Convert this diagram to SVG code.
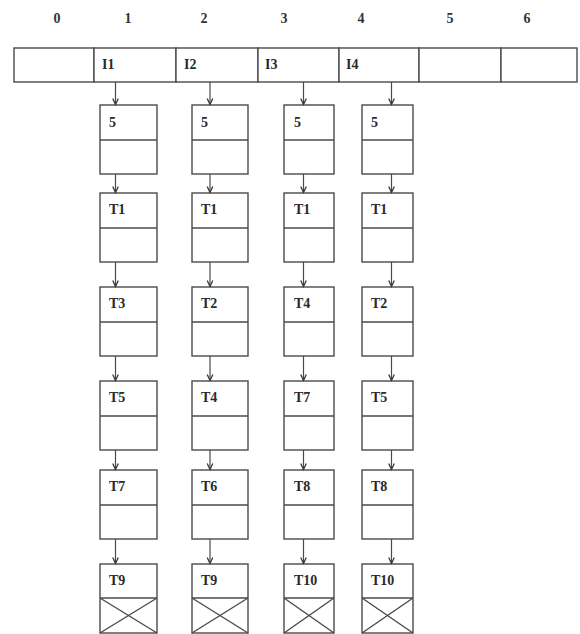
<svg xmlns="http://www.w3.org/2000/svg" width="580" height="634" viewBox="0 0 580 634">
  <style>
    .bg { fill: #ffffff; }
    .cell { fill: #ffffff; stroke: #4a4a4a; stroke-width: 1.4; }
    .line { fill: none; stroke: #4a4a4a; stroke-width: 1.4; }
    .idx { font-family: "Liberation Serif", "Times New Roman", serif; font-weight: bold; font-size: 14px; fill: #333333; text-anchor: middle; }
    .lbl { font-family: "Liberation Serif", "Times New Roman", serif; font-weight: bold; font-size: 14px; fill: #2a2a2a; }
    .txt { font-family: "Liberation Serif", "Times New Roman", serif; font-weight: bold; font-size: 14px; fill: #2a2a2a; }
    .conn { fill: none; stroke: #4a4a4a; stroke-width: 1.2; marker-end: url(#arr); }
  </style>
  <defs>
    <marker id="arr" viewBox="-8 -4 9 8" markerWidth="9" markerHeight="8" refX="0" refY="0" orient="auto" markerUnits="userSpaceOnUse">
      <path d="M-6,-2.8 L0,0 L-6,2.8" fill="none" stroke="#3a3a3a" stroke-width="1.3"/>
    </marker>
  </defs>
  <rect class="bg" x="0" y="0" width="580" height="634"/>

  <g id="indices">
    <text class="idx" x="57" y="23">0</text>
    <text class="idx" x="128" y="23">1</text>
    <text class="idx" x="204" y="23">2</text>
    <text class="idx" x="284" y="23">3</text>
    <text class="idx" x="361" y="23">4</text>
    <text class="idx" x="450" y="23">5</text>
    <text class="idx" x="527" y="23">6</text>
  </g>

  <g id="array">
    <rect class="cell" x="14" y="48" width="80" height="34"/>
    <rect class="cell" x="94" y="48" width="82" height="34"/>
    <rect class="cell" x="176" y="48" width="82" height="34"/>
    <rect class="cell" x="258" y="48" width="81" height="34"/>
    <rect class="cell" x="339" y="48" width="80" height="34"/>
    <rect class="cell" x="419" y="48" width="82" height="34"/>
    <rect class="cell" x="501" y="48" width="76" height="34"/>
    <text class="lbl" x="102" y="69">I1</text>
    <text class="lbl" x="184" y="69">I2</text>
    <text class="lbl" x="265" y="69">I3</text>
    <text class="lbl" x="346" y="69">I4</text>
  </g>

  <g id="col1">
    <g id="c1n1"><rect class="cell" x="100" y="105" width="57" height="69"/><line class="line" x1="100" y1="140" x2="157" y2="140"/><text class="txt" x="109" y="127">5</text></g>
    <g id="c1n2"><rect class="cell" x="100" y="193" width="57" height="69"/><line class="line" x1="100" y1="228" x2="157" y2="228"/><text class="txt" x="109" y="214">T1</text></g>
    <g id="c1n3"><rect class="cell" x="100" y="287" width="57" height="69"/><line class="line" x1="100" y1="322" x2="157" y2="322"/><text class="txt" x="109" y="308">T3</text></g>
    <g id="c1n4"><rect class="cell" x="100" y="381" width="57" height="69"/><line class="line" x1="100" y1="416" x2="157" y2="416"/><text class="txt" x="109" y="402">T5</text></g>
    <g id="c1n5"><rect class="cell" x="100" y="470" width="57" height="69"/><line class="line" x1="100" y1="505" x2="157" y2="505"/><text class="txt" x="109" y="491">T7</text></g>
    <g id="c1n6"><rect class="cell" x="100" y="564" width="57" height="69"/><line class="line" x1="100" y1="598" x2="157" y2="598"/><line class="line" x1="100" y1="598" x2="157" y2="633"/><line class="line" x1="157" y1="598" x2="100" y2="633"/><text class="txt" x="109" y="585">T9</text></g>
  </g>

  <g id="col2">
    <g id="c2n1"><rect class="cell" x="192" y="105" width="56" height="69"/><line class="line" x1="192" y1="140" x2="248" y2="140"/><text class="txt" x="201" y="127">5</text></g>
    <g id="c2n2"><rect class="cell" x="192" y="193" width="56" height="69"/><line class="line" x1="192" y1="228" x2="248" y2="228"/><text class="txt" x="201" y="214">T1</text></g>
    <g id="c2n3"><rect class="cell" x="192" y="287" width="56" height="69"/><line class="line" x1="192" y1="322" x2="248" y2="322"/><text class="txt" x="201" y="308">T2</text></g>
    <g id="c2n4"><rect class="cell" x="192" y="381" width="56" height="69"/><line class="line" x1="192" y1="416" x2="248" y2="416"/><text class="txt" x="201" y="402">T4</text></g>
    <g id="c2n5"><rect class="cell" x="192" y="470" width="56" height="69"/><line class="line" x1="192" y1="505" x2="248" y2="505"/><text class="txt" x="201" y="491">T6</text></g>
    <g id="c2n6"><rect class="cell" x="192" y="564" width="56" height="69"/><line class="line" x1="192" y1="598" x2="248" y2="598"/><line class="line" x1="192" y1="598" x2="248" y2="633"/><line class="line" x1="248" y1="598" x2="192" y2="633"/><text class="txt" x="201" y="585">T9</text></g>
  </g>

  <g id="col3">
    <g id="c3n1"><rect class="cell" x="284" y="105" width="50" height="69"/><line class="line" x1="284" y1="140" x2="334" y2="140"/><text class="txt" x="294" y="127">5</text></g>
    <g id="c3n2"><rect class="cell" x="284" y="193" width="50" height="69"/><line class="line" x1="284" y1="228" x2="334" y2="228"/><text class="txt" x="294" y="214">T1</text></g>
    <g id="c3n3"><rect class="cell" x="284" y="287" width="50" height="69"/><line class="line" x1="284" y1="322" x2="334" y2="322"/><text class="txt" x="294" y="308">T4</text></g>
    <g id="c3n4"><rect class="cell" x="284" y="381" width="50" height="69"/><line class="line" x1="284" y1="416" x2="334" y2="416"/><text class="txt" x="294" y="402">T7</text></g>
    <g id="c3n5"><rect class="cell" x="284" y="470" width="50" height="69"/><line class="line" x1="284" y1="505" x2="334" y2="505"/><text class="txt" x="294" y="491">T8</text></g>
    <g id="c3n6"><rect class="cell" x="284" y="564" width="50" height="69"/><line class="line" x1="284" y1="598" x2="334" y2="598"/><line class="line" x1="284" y1="598" x2="334" y2="633"/><line class="line" x1="334" y1="598" x2="284" y2="633"/><text class="txt" x="294" y="585">T10</text></g>
  </g>

  <g id="col4">
    <g id="c4n1"><rect class="cell" x="362" y="105" width="51" height="69"/><line class="line" x1="362" y1="140" x2="413" y2="140"/><text class="txt" x="371" y="127">5</text></g>
    <g id="c4n2"><rect class="cell" x="362" y="193" width="51" height="69"/><line class="line" x1="362" y1="228" x2="413" y2="228"/><text class="txt" x="371" y="214">T1</text></g>
    <g id="c4n3"><rect class="cell" x="362" y="287" width="51" height="69"/><line class="line" x1="362" y1="322" x2="413" y2="322"/><text class="txt" x="371" y="308">T2</text></g>
    <g id="c4n4"><rect class="cell" x="362" y="381" width="51" height="69"/><line class="line" x1="362" y1="416" x2="413" y2="416"/><text class="txt" x="371" y="402">T5</text></g>
    <g id="c4n5"><rect class="cell" x="362" y="470" width="51" height="69"/><line class="line" x1="362" y1="505" x2="413" y2="505"/><text class="txt" x="371" y="491">T8</text></g>
    <g id="c4n6"><rect class="cell" x="362" y="564" width="51" height="69"/><line class="line" x1="362" y1="598" x2="413" y2="598"/><line class="line" x1="362" y1="598" x2="413" y2="633"/><line class="line" x1="413" y1="598" x2="362" y2="633"/><text class="txt" x="371" y="585">T10</text></g>
  </g>

  <g id="connectors">
    <line class="conn" x1="115.5" y1="82" x2="115.5" y2="104.5"/>
    <line class="conn" x1="115.5" y1="174" x2="115.5" y2="192.5"/>
    <line class="conn" x1="115.5" y1="262" x2="115.5" y2="286.5"/>
    <line class="conn" x1="115.5" y1="356" x2="115.5" y2="380.5"/>
    <line class="conn" x1="115.5" y1="450" x2="115.5" y2="469.5"/>
    <line class="conn" x1="115.5" y1="539" x2="115.5" y2="563.5"/>

    <line class="conn" x1="210" y1="82" x2="210" y2="104.5"/>
    <line class="conn" x1="210" y1="174" x2="210" y2="192.5"/>
    <line class="conn" x1="210" y1="262" x2="210" y2="286.5"/>
    <line class="conn" x1="210" y1="356" x2="210" y2="380.5"/>
    <line class="conn" x1="210" y1="450" x2="210" y2="469.5"/>
    <line class="conn" x1="210" y1="539" x2="210" y2="563.5"/>

    <line class="conn" x1="303.5" y1="82" x2="303.5" y2="104.5"/>
    <line class="conn" x1="303.5" y1="174" x2="303.5" y2="192.5"/>
    <line class="conn" x1="303.5" y1="262" x2="303.5" y2="286.5"/>
    <line class="conn" x1="303.5" y1="356" x2="303.5" y2="380.5"/>
    <line class="conn" x1="303.5" y1="450" x2="303.5" y2="469.5"/>
    <line class="conn" x1="303.5" y1="539" x2="303.5" y2="563.5"/>

    <line class="conn" x1="391.5" y1="82" x2="391.5" y2="104.5"/>
    <line class="conn" x1="391.5" y1="174" x2="391.5" y2="192.5"/>
    <line class="conn" x1="391.5" y1="262" x2="391.5" y2="286.5"/>
    <line class="conn" x1="391.5" y1="356" x2="391.5" y2="380.5"/>
    <line class="conn" x1="391.5" y1="450" x2="391.5" y2="469.5"/>
    <line class="conn" x1="391.5" y1="539" x2="391.5" y2="563.5"/>
  </g>
</svg>
